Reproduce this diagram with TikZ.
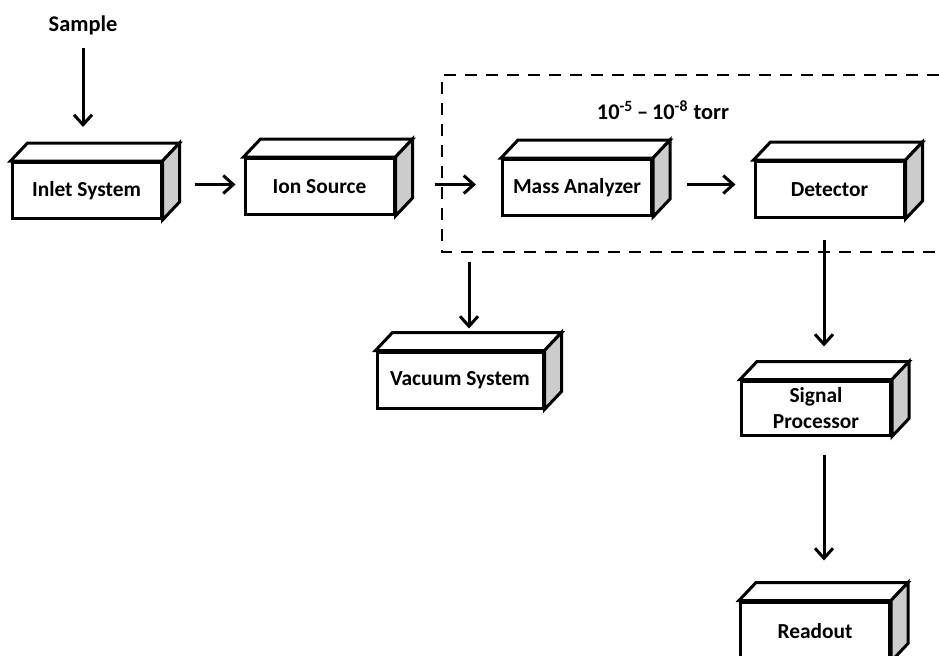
\documentclass[tikz,border=0pt]{standalone}
\usepackage{fontspec}
\setmainfont{Carlito}
\usetikzlibrary{arrows.meta,calc,positioning}
\tikzset{
  unitbox/.style={draw,line width=1.5pt,fill=white,minimum width=74.5pt,minimum height=28pt,inner sep=0pt,align=center,font=\bfseries\fontsize{10.7}{13}\selectfont},
  topface/.style={draw,line width=1.5pt,fill=white,line join=miter},
  sideface/.style={draw,line width=1.5pt,fill=gray!40,line join=miter},
  flow/.style={-{Straight Barb[length=5pt,width=9pt,line width=1.5pt]},line width=1.5pt},
  vacline/.style={dash pattern=on 6pt off 4.5pt,line width=1pt},
  plain/.style={font=\bfseries\fontsize{11.2}{13}\selectfont}
}

\begin{document}
\begin{tikzpicture}[x=0.5pt,y=-0.5pt]
\clip (0,0) rectangle (939,655);
\draw[vacline] (960,75) -- (442,75) -- (442,252) -- (960,252);
\node[plain] (sample) at (83,25) {Sample};
\node[plain] (press) at (663,110) {10\textsuperscript{-5}\,–\,10\textsuperscript{-8} torr};
\node[unitbox] (inlet) at (86.5,190.5) {Inlet System};
\node[unitbox] (ion) at (319.5,186.5) {Ion Source};
\node[unitbox] (mass) at (577,187.5) {Mass Analyzer};
\node[unitbox] (det) at (829.5,189.5) {Detector};
\node[unitbox,minimum width=83pt] (vac) at (460,380) {Vacuum System};
\node[unitbox,minimum height=27pt] (sig) at (816,408) {Signal\\Processor};
\node[unitbox,minimum height=29pt] (read) at (815,631) {Readout};
\foreach \n in {inlet,ion,mass,det,vac,sig,read}{
  \draw[topface] (\n.north west) -- ++(17,-18) -- ([shift={(17,-18)}]\n.north east) -- (\n.north east) -- cycle;
  \draw[sideface] (\n.north east) -- ++(17,-18) -- ([shift={(17,-18)}]\n.south east) -- (\n.south east) -- cycle;
}
\coordinate (pump) at (469,262);
\draw[flow,shorten <=3pt,shorten >=17pt] (sample.south) -- (sample.south |- inlet.north);
\draw[flow,shorten <=16pt,shorten >=4pt] ([yshift=3pt]inlet.east) -- ([yshift=3pt]inlet.east -| ion.west);
\draw[flow,shorten <=19.5pt,shorten >=12.5pt] ([yshift=1pt]ion.east) -- ([yshift=1pt]ion.east -| mass.west);
\draw[flow,shorten <=17pt,shorten >=9pt] ([yshift=1.5pt]mass.east) -- ([yshift=1.5pt]mass.east -| det.west);
\draw[flow,shorten >=11pt] (pump) -- (pump |- vac.north);
\draw[flow,shorten <=10.5pt,shorten >=16.5pt] ([xshift=-2.75pt]det.south) -- ([xshift=-2.75pt]det.south |- sig.north);
\draw[flow,shorten <=9pt,shorten >=20pt] ([xshift=4pt]sig.south) -- ([xshift=4pt]sig.south |- read.north);
\end{tikzpicture}
\end{document}
